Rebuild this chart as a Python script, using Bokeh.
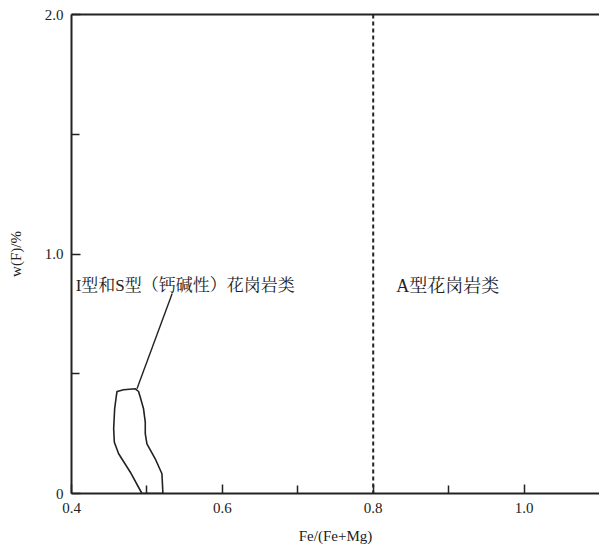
from bokeh.plotting import figure
from bokeh.models import FixedTicker, LinearAxis, Range1d, Span, ColumnDataSource
from bokeh.core.properties import value
from bokeh.embed import file_html
from bokeh.resources import INLINE

# Field boundary of I- and S-type (calc-alkaline) granites
field_x = [0.4934, 0.4780, 0.4625, 0.4568, 0.4559, 0.4572, 0.4595, 0.4604, 0.4691, 0.4846,
           0.4889, 0.4912, 0.4955, 0.4978, 0.4978, 0.5000, 0.5110, 0.5199, 0.5212]
field_y = [0.0, 0.0889, 0.1658, 0.2142, 0.2701, 0.3537, 0.4092, 0.4259, 0.4330, 0.4372,
           0.4259, 0.4021, 0.3537, 0.2977, 0.2505, 0.2075, 0.1449, 0.0823, 0.0]
# Leader line from field to label
leader_x = [0.4868, 0.5335]
leader_y = [0.4372, 0.835]
# Boundary between fields
boundary_x = 0.8

region_labels = ["I型和S型（钙碱性）花岗岩类", "A型花岗岩类"]
label_x = [0.4055, 0.8305]
label_y = [0.868, 0.868]
label_size = ["17px", "18px"]

x_major = [0.4, 0.6, 0.8, 1.0]
x_minor = [0.5, 0.7, 0.9]
x_tick_labels = {0.4: "0.4", 0.6: "0.6", 0.8: "0.8", 1.0: "1.0"}
y_major = [0.0, 1.0, 2.0]
y_minor = [0.5, 1.5]
y_tick_labels = {0: "0", 1: "1.0", 2: "2.0"}

SERIF = "Liberation Serif"
CJK = "Liberation Serif, Noto Serif CJK SC, Noto Sans CJK SC"

p = figure(width=599, height=549, output_backend="svg", toolbar_location=None,
           x_range=Range1d(0.4, 1.1), y_range=Range1d(0.0, 2.0),
           min_border_left=71, min_border_right=0, min_border_top=14, min_border_bottom=56,
           x_axis_label="Fe/(Fe+Mg)", y_axis_label="w(F)/%")
p.outline_line_color = None
p.grid.visible = False
p.background_fill_color = "white"
p.border_fill_color = "white"

for ax in (p.xaxis[0], p.yaxis[0]):
    ax.axis_line_width = 2
    ax.axis_line_color = "#222222"
    ax.major_tick_line_color = "#222222"
    ax.minor_tick_line_color = "#222222"
    ax.major_tick_line_width = 1.5
    ax.minor_tick_line_width = 1.5
    ax.major_tick_out = 0
    ax.minor_tick_out = 0
    ax.major_tick_in = 9
    ax.minor_tick_in = 8
    ax.major_label_text_font = SERIF
    ax.major_label_text_font_size = "15px"
    ax.major_label_text_color = "#222222"
    ax.axis_label_text_font = SERIF
    ax.axis_label_text_font_size = "15px"
    ax.axis_label_text_font_style = "normal"
    ax.axis_label_text_color = "#222222"

p.xaxis[0].ticker = FixedTicker(ticks=x_major, minor_ticks=x_minor)
p.xaxis[0].major_label_overrides = x_tick_labels
p.xaxis[0].major_label_standoff = 9
p.xaxis[0].axis_label_standoff = 12
p.yaxis[0].ticker = FixedTicker(ticks=y_major, minor_ticks=y_minor)
p.yaxis[0].major_label_overrides = y_tick_labels
p.yaxis[0].major_label_standoff = 8
p.yaxis[0].axis_label_standoff = 18

top = LinearAxis(ticker=FixedTicker(ticks=[]), axis_line_width=2, axis_line_color="#222222",
                 major_tick_line_color=None, minor_tick_line_color=None,
                 major_label_text_font_size="0px")
p.add_layout(top, "above")

p.add_layout(Span(location=boundary_x, dimension="height", line_color="#222222",
                  line_width=2, line_dash="4 3"))

p.patch(field_x, field_y, fill_color=None, line_color="#222222", line_width=1.6,
        line_join="round")
p.line(leader_x, leader_y, line_color="#222222", line_width=1.4)

src = ColumnDataSource(dict(x=label_x, y=label_y, t=region_labels, s=label_size))
p.text(x="x", y="y", text="t", source=src, text_font=value(CJK), text_font_size="s",
       text_baseline="middle", text_align="left", text_color="#222222")

open("out.html", "w").write(file_html(p, INLINE))
